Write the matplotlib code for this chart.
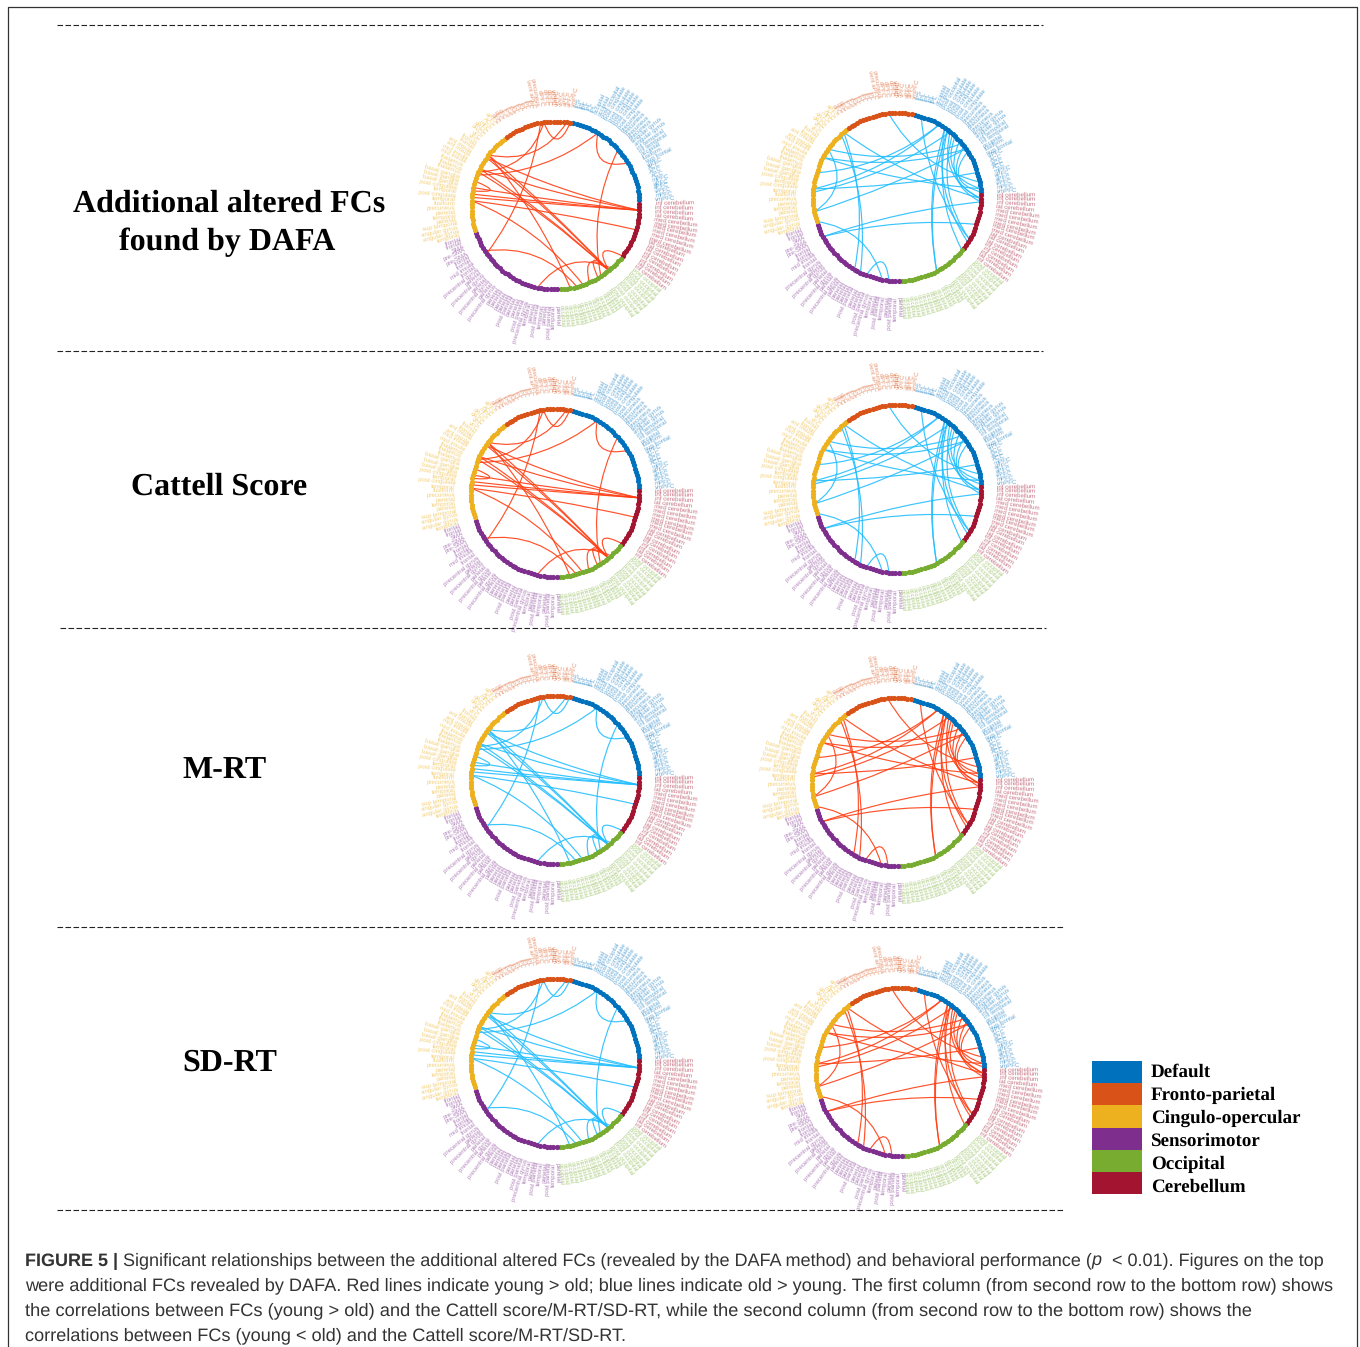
import numpy as np
import matplotlib
matplotlib.use('Agg')
import matplotlib.pyplot as plt
from matplotlib.path import Path
from matplotlib.patches import PathPatch, Rectangle

plt.rcParams['text.hinting'] = 'no_hinting'

# networks, clockwise round the ring starting at the top right
networks = ['Default', 'Cerebellum', 'Occipital', 'Sensorimotor', 'Cingulo-opercular', 'Fronto-parietal']
net_colors = ['#0072BD', '#A2142F', '#77AC30', '#7E2F8E', '#EDB120', '#D95319']

default_labels = ['IPS', 'IPL', 'IPL', 'IPL', 'IPL', 'occipital', 'occipital', 'post occipital',
                  'post cingulate', 'post cingulate', 'post cingulate', 'post cingulate', 'post cingulate',
                  'precuneus', 'precuneus', 'precuneus', 'precuneus', 'angular gyrus', 'angular gyrus',
                  'inf temporal', 'inf temporal', 'occipital', 'fusiform', 'sup frontal', 'vlPFC',
                  'ACC', 'ACC', 'ACC', 'mPFC', 'aPFC', 'aPFC', 'vlPFC', 'mPFC', 'vmPFC']
cerebellum_labels = ['inf cerebellum', 'inf cerebellum', 'inf cerebellum', 'lat cerebellum', 'med cerebellum',
                     'med cerebellum', 'med cerebellum', 'med cerebellum', 'med cerebellum', 'med cerebellum',
                     'lat cerebellum', 'lat cerebellum', 'lat cerebellum', 'inf cerebellum', 'inf cerebellum',
                     'inf cerebellum', 'lat cerebellum', 'inf cerebellum']
occipital_labels = ['post occipital', 'post occipital', 'post occipital', 'post occipital', 'post occipital',
                    'post occipital', 'post occipital', 'post occipital', 'occipital', 'occipital',
                    'occipital', 'occipital', 'occipital', 'occipital', 'occipital', 'occipital',
                    'occipital', 'occipital', 'occipital', 'occipital', 'occipital', 'occipital']
sensorimotor_labels = ['parietal', 'temporal', 'post parietal', 'parietal', 'temporal', 'post parietal',
                       'parietal', 'temporal', 'precentral gyrus', 'post parietal', 'parietal', 'parietal',
                       'post parietal', 'parietal', 'parietal', 'parietal', 'parietal', 'precentral gyrus',
                       'parietal', 'precentral gyrus', 'parietal', 'precentral gyrus', 'parietal',
                       'precentral gyrus', 'frontal', 'mid insula', 'frontal', 'frontal', 'pre-SMA',
                       'pre-SMA', 'SMA', 'frontal', 'frontal']
cingulo_labels = ['temporal', 'angular gyrus', 'angular gyrus', 'sup temporal', 'parietal', 'temporal', 'parietal',
                  'precuneus', 'fusiform', 'temporal', 'post cingulate', 'temporal', 'post cingulate',
                  'basal ganglia', 'basal ganglia', 'basal ganglia', 'thalamus', 'thalamus', 'thalamus',
                  'mid insula', 'mid insula', 'ant insula', 'ant insula', 'frontal', 'frontal',
                  'vFC', 'vFC', 'dACC', 'dACC', 'mFC', 'ACC', 'aPFC']
fronto_labels = ['dFC', 'dFC', 'dFC', 'IPS', 'IPS', 'IPL', 'IPL', 'IPL', 'IPL', 'IPL', 'vent aPFC', 'precuneus',
                 'dlPFC', 'dlPFC', 'dlPFC', 'vlPFC', 'vlPFC', 'vPFC', 'aPFC', 'aPFC', 'vmPFC']
net_labels = [default_labels, cerebellum_labels, occipital_labels, sensorimotor_labels, cingulo_labels, fronto_labels]

# links as pairs of node numbers (node 0 = first Default node, clockwise, 160 nodes)
left_links = [(130, 36), (126, 36), (120, 36), (118, 36), (117, 36), (131, 57), (130, 57), (126, 57), (125, 57),
              (116, 42), (131, 70), (116, 66), (100, 68), (80, 56), (57, 51), (61, 57), (64, 57), (99, 150),
              (131, 158), (124, 8), (151, 125), (151, 159), (8, 21), (16, 60), (122, 119)]
right_links = [(152, 30), (137, 35), (137, 88), (136, 86), (130, 17), (130, 110), (127, 19), (127, 32), (122, 8),
               (117, 8), (117, 27), (116, 12), (110, 19), (102, 36), (102, 43), (107, 79), (84, 77), (2, 48),
               (11, 62), (10, 62), (11, 52), (10, 49), (13, 48), (14, 32), (16, 35), (12, 35), (18, 36), (20, 33)]

row_titles = [['Additional altered FCs', 'found by DAFA'], ['Cattell Score'], ['M-RT'], ['SD-RT']]
legend_names = ['Default', 'Fronto-parietal', 'Cingulo-opercular', 'Sensorimotor', 'Occipital', 'Cerebellum']
legend_colors = ['#0072BD', '#D95319', '#EDB120', '#7E2F8E', '#77AC30', '#A2142F']

RED = '#FF3F14'
BLUE = '#24BEFF'

# (centre x, centre y, links, colour)
panels = [(555.5, 205.5, left_links, RED), (897, 197, right_links, BLUE),
          (555, 493, left_links, RED), (897, 489, right_links, BLUE),
          (555, 780, left_links, BLUE), (896, 782, right_links, RED),
          (555, 1063, left_links, BLUE), (900, 1072, right_links, RED)]

fig = plt.figure(figsize=(13.6, 13.47), dpi=100)
ax = fig.add_axes([0, 0, 1, 1])
ax.set_xlim(0, 1360)
ax.set_ylim(1347, 0)
ax.axis('off')

R = 84
STEP = 360 / 160


def node_xy(cx, cy, i, r=R):
    a = np.deg2rad(77.7 - STEP * i)
    return cx + r * np.cos(a), cy - r * np.sin(a)


def draw_panel(cx, cy, links, color):
    # links first, ring over them
    for i, j in links:
        p0 = np.array(node_xy(cx, cy, i))
        p2 = np.array(node_xy(cx, cy, j))
        c = np.array([cx, cy])
        p1 = c + ((p0 + p2) / 2 - c) * 0.6
        path = Path([p0, p1, p2], [Path.MOVETO, Path.CURVE3, Path.CURVE3])
        ax.add_patch(PathPatch(path, fc='none', ec=color, lw=0.85, alpha=0.9, zorder=2))
    n = 0
    for col, labels in zip(net_colors, net_labels):
        idx = np.arange(n, n + len(labels))
        x, y = node_xy(cx, cy, idx)
        ax.scatter(x, y, s=14, color=col, lw=0, zorder=3, snap=False)
        for k, lab in zip(idx, labels):
            a = (77.7 - STEP * k) % 360
            tx, ty = node_xy(cx, cy, k, r=100)
            if 90 < a < 270:
                rot, ha = a + 180, 'right'
            else:
                rot, ha = a, 'left'
            ax.text(tx, ty, lab, color=col, alpha=0.6, fontsize=4.4, family='Liberation Sans',
                    rotation=rot, rotation_mode='anchor', ha=ha, va='center', zorder=1)
        n += len(labels)


for cx, cy, links, color in panels:
    draw_panel(cx, cy, links, color)

# frame, open at the bottom
ax.plot([8, 8, 1357, 1357], [1347, 7, 7, 1347], color='#333333', lw=0.9, clip_on=False)

# dashed row separators
for x0, x1, y in [(57, 1043, 25), (57, 1043, 351), (60, 1046, 628), (57, 1063, 927), (57, 1063, 1210)]:
    ax.plot([x0, x1], [y, y], color='#222222', lw=0.8, dashes=(5, 2.2))

# row titles
title_pos = [[(229, 204), (227, 242)], [(219, 487)], [(225, 770)], [(230, 1063)]]
for pos, lines in zip(title_pos, row_titles):
    for (x, y), t in zip(pos, lines):
        ax.text(x, y, t, ha='center', va='center', family='Liberation Serif', weight='bold',
                fontsize=23, color='black')

# legend
for i, (name, col) in enumerate(zip(legend_names, legend_colors)):
    ax.add_patch(Rectangle((1092, 1061 + 22.2 * i), 50, 22.2, fc=col, ec='none'))
    ax.text(1151, 1072 + 23 * i, name, family='Liberation Serif', weight='bold', fontsize=13.7,
            ha='left', va='center', color='black')

# caption, pieces placed one after the other
renderer = fig.canvas.get_renderer()


def put_line(x, y, size, parts):
    for s, kw in parts:
        t = ax.text(x, y, s, family='Liberation Sans', fontsize=size, color='#333333', ha='left', va='center', **kw)
        x = t.get_window_extent(renderer).x1


put_line(25, 1261, 13.0, [('FIGURE 5 | ', {'weight': 'bold'}),
                          ('Significant relationships between the additional altered FCs (revealed by the DAFA method) and behavioral performance (', {}),
                          ('p', {'style': 'italic'}),
                          ('  < 0.01). Figures on the top', {})])
put_line(25, 1286, 13.1, [('were additional FCs revealed by DAFA. Red lines indicate young > old; blue lines indicate old > young. The first column (from second row to the bottom row) shows', {})])
put_line(25, 1311, 13.18, [('the correlations between FCs (young > old) and the Cattell score/M-RT/SD-RT, while the second column (from second row to the bottom row) shows the', {})])
put_line(25, 1336, 13.07, [('correlations between FCs (young < old) and the Cattell score/M-RT/SD-RT.', {})])

fig.savefig('out.png', dpi=100)
